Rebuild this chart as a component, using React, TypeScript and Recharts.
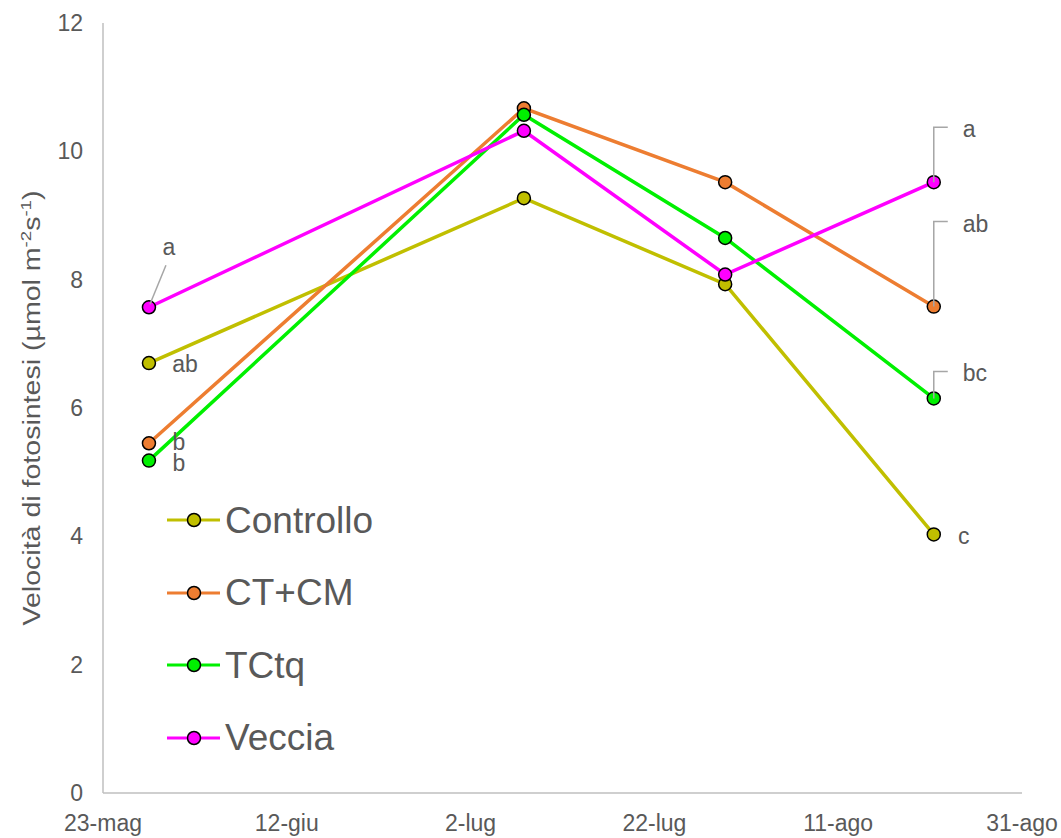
import { LineChart, Line, XAxis, YAxis, Legend, LabelList } from 'recharts';

// days since 23-mag
const SAMPLE_DAYS: number[] = [5, 45.8, 67.7, 90.4];
const TICK_DAYS: number[] = [0, 20, 40, 60, 80, 100];
const TICK_LABELS: string[] = ['23-mag', '12-giu', '2-lug', '22-lug', '11-ago', '31-ago'];

const CONTROLLO: number[] = [6.7, 9.27, 7.93, 4.03];
const CT_CM: number[] = [5.45, 10.67, 9.52, 7.58];
const TCTQ: number[] = [5.18, 10.57, 8.65, 6.15];
const VECCIA: number[] = [7.57, 10.32, 8.08, 9.52];

// significance letters (first and last date)
const LETTERS_CONTROLLO: string[] = ['ab', '', '', 'c'];
const LETTERS_CT_CM: string[] = ['b', '', '', 'ab'];
const LETTERS_TCTQ: string[] = ['b', '', '', 'bc'];
const LETTERS_VECCIA: string[] = ['a', '', '', 'a'];

const TEXT = '#595959';
const FONT = 'Liberation Sans, Arial, sans-serif';

const data = SAMPLE_DAYS.map((d, i) => ({
    day: d,
    controllo: CONTROLLO[i],
    ctcm: CT_CM[i],
    tctq: TCTQ[i],
    veccia: VECCIA[i],
    lControllo: LETTERS_CONTROLLO[i],
    lCtcm: LETTERS_CT_CM[i],
    lTctq: LETTERS_TCTQ[i],
    lVeccia: LETTERS_VECCIA[i],
}));

// where each letter goes relative to its point
type Place = { dx: number; dy: number; leader: 'none' | 'diag' | 'elbow' };
const NO: Place = { dx: 0, dy: 0, leader: 'none' };
const PLACES: Record<string, Place[]> = {
    controllo: [{ dx: 36, dy: 1, leader: 'none' }, NO, NO, { dx: 30, dy: 2, leader: 'none' }],
    ctcm: [{ dx: 30, dy: -1, leader: 'none' }, NO, NO, { dx: 16, dy: -83, leader: 'elbow' }],
    tctq: [{ dx: 30, dy: 2, leader: 'none' }, NO, NO, { dx: 16, dy: -25, leader: 'elbow' }],
    veccia: [{ dx: 20, dy: -60, leader: 'diag' }, NO, NO, { dx: 16, dy: -53, leader: 'elbow' }],
};

const SERIES = [
    { key: 'controllo', label: 'lControllo', name: 'Controllo', color: '#C0BF00' },
    { key: 'ctcm', label: 'lCtcm', name: 'CT+CM', color: '#ED7D31' },
    { key: 'tctq', label: 'lTctq', name: 'TCtq', color: '#00F000' },
    { key: 'veccia', label: 'lVeccia', name: 'Veccia', color: '#FF00FF' },
];

function makeLetter(key: string) {
    return (props: any) => {
        const { x, y, value, index } = props;
        if (!value) return null;
        const p = PLACES[key][index];
        const tx = x + p.dx;
        const ty = y + p.dy;
        const elbow = p.leader === 'elbow';
        return (
            <g>
                {p.leader === 'diag' && (
                    <line x1={x + 1} y1={y - 3} x2={x + 17} y2={y - 42} stroke="#A6A6A6" strokeWidth={1.5} />
                )}
                {elbow && (
                    <polyline points={`${x},${y} ${x},${ty - 2} ${x + 14},${ty - 2}`} fill="none" stroke="#A6A6A6" strokeWidth={1.5} />
                )}
                <text x={elbow ? tx + 13 : tx} y={ty} fill={TEXT} fontSize={23} fontFamily={FONT}
                    textAnchor={elbow ? 'start' : 'middle'} dominantBaseline="central">
                    {value}
                </text>
            </g>
        );
    };
}

function LegendBox() {
    return (
        <div style={{ display: 'flex', flexDirection: 'column' }}>
            {SERIES.map(s => (
                <div key={s.key} style={{ display: 'flex', alignItems: 'center', height: 72.5 }}>
                    <svg width={56} height={20}>
                        <line x1={1} y1={10} x2={54} y2={10} stroke={s.color} strokeWidth={3} />
                        <circle cx={28} cy={10} r={6.5} fill={s.color} stroke="#000" strokeWidth={1.5} />
                    </svg>
                    <span style={{ fontSize: 37, color: TEXT, fontFamily: FONT, marginLeft: 3, lineHeight: 1 }}>{s.name}</span>
                </div>
            ))}
        </div>
    );
}

function YTitle() {
    return (
        <text transform="translate(40,408) rotate(-90)" textAnchor="middle" fill={TEXT} fontSize={23} fontFamily={FONT}
            textLength={435} lengthAdjust="spacingAndGlyphs">
            Velocità di fotosintesi (µmol m<tspan fontSize={15} dy={-9}>-2</tspan><tspan dy={9}>s</tspan><tspan fontSize={15} dy={-9}>-1</tspan><tspan dy={9}>)</tspan>
        </text>
    );
}

export default function App() {
    return (
        <div style={{ position: 'absolute', left: 0, top: 0, width: 1061, height: 838, background: '#fff' }}>
            <LineChart width={1061} height={838} data={data} margin={{ top: 23, right: 39, bottom: 15, left: 43 }}>
                <XAxis
                    dataKey="day"
                    type="number"
                    domain={[0, 100]}
                    ticks={TICK_DAYS}
                    tickFormatter={(v: number) => TICK_LABELS[TICK_DAYS.indexOf(v)] ?? ''}
                    tickLine={false}
                    axisLine={{ stroke: '#BFBFBF', strokeWidth: 1.5 }}
                    tick={{ fill: TEXT, fontSize: 23, fontFamily: FONT }}
                    tickMargin={16}
                    height={30}
                    interval={0}
                />
                <YAxis
                    type="number"
                    domain={[0, 12]}
                    ticks={[0, 2, 4, 6, 8, 10, 12]}
                    tickLine={false}
                    axisLine={{ stroke: '#BFBFBF', strokeWidth: 1.5 }}
                    tick={{ fill: TEXT, fontSize: 23, fontFamily: FONT }}
                    tickMargin={14}
                    width={60}
                />
                {SERIES.map(s => (
                    <Line
                        key={s.key}
                        dataKey={s.key}
                        name={s.name}
                        stroke={s.color}
                        strokeWidth={3.5}
                        dot={{ r: 6.5, fill: s.color, stroke: '#000', strokeWidth: 1.5 }}
                        activeDot={false}
                        isAnimationActive={false}
                    >
                        <LabelList dataKey={s.label} content={makeLetter(s.key)} />
                    </Line>
                ))}
                <Legend
                    layout="vertical"
                    verticalAlign="middle"
                    align="center"
                    content={() => <LegendBox />}
                    wrapperStyle={{ position: 'absolute', left: 166, top: 484, width: 250 }}
                />
                <YTitle />
            </LineChart>
        </div>
    );
}
